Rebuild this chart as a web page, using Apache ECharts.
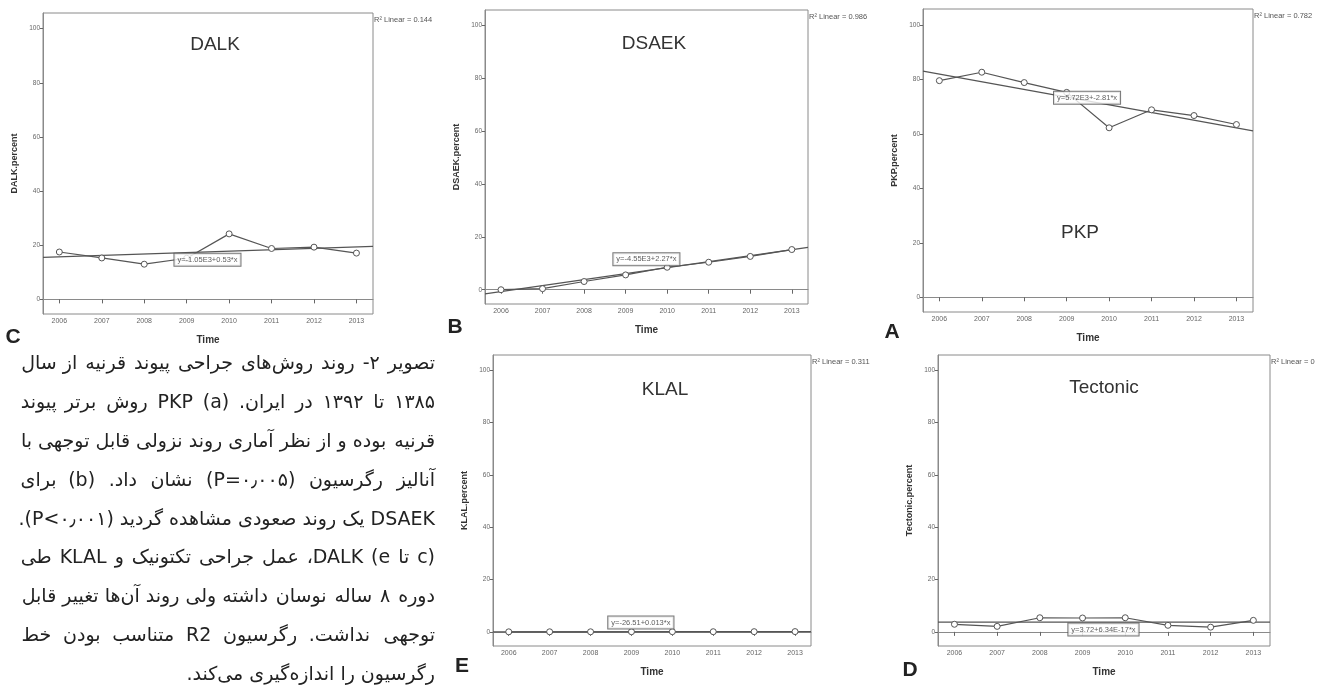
<!DOCTYPE html>
<html>
<head>
<meta charset="utf-8">
<script src="https://cdn.jsdelivr.net/npm/echarts@6/dist/echarts.min.js"></script>
<style>
html,body{margin:0;padding:0;background:#fff;}
#chart{position:absolute;left:0;top:0;width:1319px;height:689px;}
#caption{position:absolute;left:0;top:340px;width:445px;height:349px;direction:rtl;}
</style>
</head>
<body>
<div id="chart"></div>
<div id="caption" dir="rtl"></div>
<script>
var years = [2006, 2007, 2008, 2009, 2010, 2011, 2012, 2013];
var yTicks = [0, 20, 40, 60, 80, 100];

var dalkValues = [17.5, 15.3, 13.0, 15.2, 24.2, 18.8, 19.3, 17.1];
var dsaekValues = [0, 0.4, 3.1, 5.6, 8.5, 10.4, 12.6, 15.2];
var pkpValues = [79.5, 82.6, 78.8, 75.2, 62.2, 68.8, 66.7, 63.4];
var klalValues = [0.02, 0.03, 0.03, 0.05, 0.07, 0.06, 0.08, 0.11];
var tectonicValues = [2.9, 2.1, 5.4, 5.3, 5.4, 2.5, 1.8, 4.4];

// fitted line at left / right edge of the plot
var dalkFit = [15.5, 19.6];
var dsaekFit = [-1.6, 16.0];
var pkpFit = [83.0, 61.1];
var klalFit = [0.0, 0.12];
var tectonicFit = [3.72, 3.72];

var panelNames = ['DALK', 'DSAEK', 'PKP', 'KLAL', 'Tectonic'];
var panelLetters = ['C', 'B', 'A', 'E', 'D'];
var equations = ['y=-1.05E3+0.53*x', 'y=-4.55E3+2.27*x', 'y=5.72E3+-2.81*x', 'y=-26.51+0.013*x', 'y=3.72+6.34E-17*x'];
var rSquared = ['0.144', '0.986', '0.782', '0.311', '0'];

var captionLines = [
	'تصویر ۲- روند روش‌های جراحی پیوند قرنیه از سال',
	'۱۳۸۵ تا ۱۳۹۲ در ایران. (a) PKP روش برتر پیوند',
	'قرنیه بوده و از نظر آماری روند نزولی قابل توجهی با',
	'آنالیز رگرسیون (P=۰٫۰۰۵) نشان داد. (b) برای',
	'DSAEK یک روند صعودی مشاهده گردید (P<۰٫۰۰۱).',
	'(c تا e) DALK، عمل جراحی تکتونیک و KLAL طی',
	'دوره ۸ ساله نوسان داشته ولی روند آن‌ها تغییر قابل',
	'توجهی نداشت. رگرسیون R2 متناسب بودن خط',
	'رگرسیون را اندازه‌گیری می‌کند.'
];

var xMin = 2005.615, xMax = 2013.39;
var yMin = -5.4, yMax = 105.8;

// layout of the five panels (pixels) and label anchors (data coords)
var panels = [
	{values: dalkValues, fit: dalkFit, box: [43, 13, 330, 301], title: [215, 45], eq: [2009.49, 14.6], letter: [13, 337], yName: 'DALK.percent'},
	{values: dsaekValues, fit: dsaekFit, box: [485, 10, 323, 294], title: [654, 44], eq: [2009.5, 11.5], letter: [455, 327], yName: 'DSAEK.percent'},
	{values: pkpValues, fit: pkpFit, box: [923, 9, 330, 303], title: [1080, 233], eq: [2009.48, 73.2], letter: [892, 332], yName: 'PKP.percent'},
	{values: klalValues, fit: klalFit, box: [493, 355, 318, 291], title: [665, 390], eq: [2009.23, 3.6], letter: [462, 666], yName: 'KLAL.percent'},
	{values: tectonicValues, fit: tectonicFit, box: [938, 355, 332, 291], title: [1104, 388], eq: [2009.49, 0.9], letter: [910, 670], yName: 'Tectonic.percent'}
];

var fontLatin = '"Liberation Sans", Arial, sans-serif';
var grids = [], xAxes = [], yAxes = [], series = [], graphics = [];

function each(arr, fn){ for (var i = 0; i < arr.length; i++) fn(arr[i], i); }
function plain(v){ return String(v); }

each(panels, function(p, i){
	grids.push({
		left: p.box[0], top: p.box[1], width: p.box[2], height: p.box[3],
		show: true, borderColor: '#8a8a8a', borderWidth: 1, containLabel: false
	});
	xAxes.push({
		type: 'value', gridIndex: i, min: xMin, max: xMax,
		name: 'Time', nameLocation: 'middle', nameGap: 21,
		nameTextStyle: {fontWeight: 'bold', fontSize: 10, color: '#333', fontFamily: fontLatin},
		axisLine: {show: true, lineStyle: {color: '#8a8a8a'}},
		splitLine: {show: false},
		axisTick: {show: true, customValues: years, length: 4, lineStyle: {color: '#666'}},
		axisLabel: {customValues: years, formatter: plain, fontSize: 7, color: '#666', margin: 4, fontFamily: fontLatin}
	});
	yAxes.push({
		type: 'value', gridIndex: i, min: yMin, max: yMax,
		name: p.yName, nameLocation: 'middle', nameGap: 24, nameRotate: 90,
		nameTextStyle: {fontWeight: 'bold', fontSize: 9, color: '#333', fontFamily: fontLatin},
		axisLine: {show: true, lineStyle: {color: '#8a8a8a'}},
		splitLine: {show: false},
		axisTick: {show: true, customValues: yTicks, length: 3, lineStyle: {color: '#666'}},
		axisLabel: {customValues: yTicks, formatter: plain, fontSize: 6.5, color: '#666', margin: 3, fontFamily: fontLatin}
	});
	// regression line
	series.push({
		type: 'line', xAxisIndex: i, yAxisIndex: i, z: 2,
		symbol: 'none', silent: true,
		lineStyle: {color: '#555', width: 1.2},
		data: [[xMin, p.fit[0]], [xMax, p.fit[1]]]
	});
	// observed yearly values
	series.push({
		type: 'line', xAxisIndex: i, yAxisIndex: i, z: 3,
		symbol: 'circle', symbolSize: 6, silent: true,
		lineStyle: {color: '#555', width: 1.2},
		itemStyle: {color: '#fff', borderColor: '#555', borderWidth: 1},
		data: years.map(function(y, k){ return [y, p.values[k]]; })
	});
	// equation box
	series.push({
		type: 'scatter', xAxisIndex: i, yAxisIndex: i, z: 5,
		symbol: 'rect', symbolSize: 0, silent: true,
		label: {
			show: true, position: 'inside', formatter: equations[i],
			fontSize: 7.5, color: '#333', fontFamily: fontLatin,
			backgroundColor: '#fff', borderColor: '#555', borderWidth: 1, padding: [2, 3]
		},
		data: [p.eq]
	});
	graphics.push({
		type: 'text', x: p.title[0], y: p.title[1],
		style: {text: panelNames[i], font: '19px ' + fontLatin, fill: '#333', textAlign: 'center', textVerticalAlign: 'middle', align: 'center', verticalAlign: 'middle'}
	});
	graphics.push({
		type: 'text', x: p.box[0] + p.box[2] + 1, y: p.box[1] + 7,
		style: {text: 'R² Linear = ' + rSquared[i], font: '7.5px ' + fontLatin, fill: '#555', textAlign: 'left', textVerticalAlign: 'middle', align: 'left', verticalAlign: 'middle'}
	});
	graphics.push({
		type: 'text', x: p.letter[0], y: p.letter[1],
		style: {text: panelLetters[i], font: 'bold 21px ' + fontLatin, fill: '#222', textAlign: 'center', textVerticalAlign: 'middle', align: 'center', verticalAlign: 'middle'}
	});
});

var myChart = echarts.init(document.getElementById('chart'));
myChart.setOption({
	animation: false,
	backgroundColor: '#fff',
	grid: grids,
	xAxis: xAxes,
	yAxis: yAxes,
	series: series,
	graphic: graphics
});

// caption, right-to-left, lines justified by widening the word gaps
var capFont = '19px "DejaVu Sans", sans-serif';
var capWidth = 413;
var measure = document.createElement('canvas').getContext('2d');
measure.font = capFont;

function justify(line){
	var words = line.split(' ');
	if (words.length < 2) return line;
	var gaps = [];
	for (var g = 0; g < words.length - 1; g++) gaps.push(' ');
	var build = function(){
		var s = words[0];
		for (var k = 1; k < words.length; k++) s += gaps[k - 1] + words[k];
		return s;
	};
	var text = build(), n = 0;
	while (measure.measureText(text).width < capWidth && n < 400) {
		gaps[n % gaps.length] += '\u200A';
		text = build();
		n++;
	}
	return text;
}

var capChart = echarts.init(document.getElementById('caption'));
var capItems = [];
each(captionLines, function(line, i){
	var last = i === captionLines.length - 1;
	capItems.push({
		type: 'text', x: 435, y: 24 + i * 38.9,
		style: {text: last ? line : justify(line), font: capFont, fill: '#222', textAlign: 'right', textVerticalAlign: 'middle', align: 'right', verticalAlign: 'middle'}
	});
});
capChart.setOption({animation: false, graphic: capItems});
</script>
</body>
</html>
